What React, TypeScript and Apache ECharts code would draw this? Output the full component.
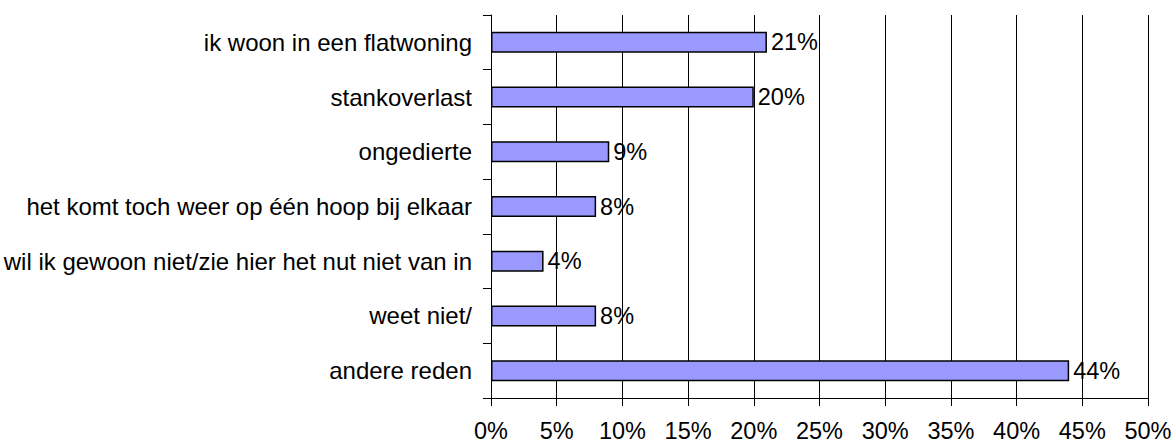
import React, { useEffect, useRef } from "react";
import * as echarts from "echarts";

const categories = [
  "ik woon in een flatwoning",
  "stankoverlast",
  "ongedierte",
  "het komt toch weer op één hoop bij elkaar",
  "wil ik gewoon niet/zie hier het nut niet van in",
  "weet niet/",
  "andere reden",
];
const values = [21, 20, 9, 8, 4, 8, 44];
const xTicks = { min: 0, max: 50, interval: 5 };

export default function App() {
  const ref = useRef<HTMLDivElement>(null);
  useEffect(() => {
    const chart = echarts.init(ref.current!, null, { renderer: "svg" });
    const font = "Liberation Sans, Arial, sans-serif";
    const fs = 23.5;
    chart.setOption({
      animation: false,
      grid: { left: 491, right: 27, top: 15, bottom: 45, containLabel: false },
      xAxis: {
        type: "value",
        min: xTicks.min,
        max: xTicks.max,
        interval: xTicks.interval,
        axisLine: { show: true, lineStyle: { color: "#000", width: 1 } },
        axisTick: { show: true, length: 8, lineStyle: { color: "#000" } },
        axisLabel: {
          formatter: "{value}%",
          color: "#000",
          fontSize: fs,
          fontFamily: font,
          margin: 21,
        },
        splitLine: { show: true, lineStyle: { color: "#000", width: 1 } },
      },
      yAxis: {
        type: "category",
        inverse: true,
        data: categories,
        axisLine: { show: true, lineStyle: { color: "#000", width: 1 } },
        axisTick: { show: true, length: 8, lineStyle: { color: "#000" } },
        axisLabel: {
          color: "#000",
          fontSize: 24,
          fontFamily: font,
          margin: 19,
        },
      },
      series: [
        {
          type: "bar",
          data: values,
          barWidth: 21,
          itemStyle: { color: "#9999FF", borderColor: "#000", borderWidth: 1.5 },
          label: {
            show: true,
            position: "right",
            distance: 4,
            formatter: "{c}%",
            color: "#000",
            fontSize: fs,
            fontFamily: font,
          },
        },
      ],
    });
    return () => chart.dispose();
  }, []);
  return <div ref={ref} style={{ width: 1175, height: 443, position: "absolute", left: 0, top: 0 }} />;
}
